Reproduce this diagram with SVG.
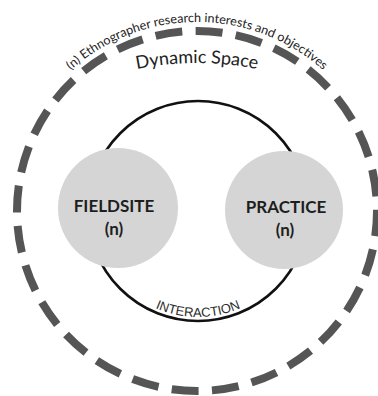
<svg xmlns="http://www.w3.org/2000/svg" width="378" height="396" viewBox="0 0 378 396">
  <defs>
    <style>
      .bg { fill: #ffffff; }
      .outer { fill: none; stroke: #555555; stroke-width: 8; stroke-dasharray: 27 13.39; stroke-dashoffset: 1.7; }
      .inner { fill: none; stroke: #111111; stroke-width: 2.6; }
      .node { fill: #d5d5d5; }
      .nlabel { font-family: Lato, "Open Sans", "Liberation Sans", sans-serif; font-weight: bold; font-size: 17px; fill: #1e1e1e; text-anchor: middle; }
      .arclabel { font-family: Lato, "Open Sans", "Liberation Sans", sans-serif; fill: #222222; }
      .interaction { font-family: "Liberation Sans", Arial, sans-serif; font-size: 13px; fill: #2a2a2a; }
    </style>
    <path id="arcOuterText" d="M 33.3 116.5 A 189 189 0 0 1 360.7 116.5"/>
    <path id="arcDynamic" d="M 47 103.2 A 300 300 0 0 1 347 103.2"/>
    <path id="arcInteraction" d="M 106.2 264 A 106 106 0 0 0 289.8 264"/>
  </defs>
  <rect class="bg" x="0" y="0" width="378" height="396"/>

  <g id="dynamic-space">
    <circle class="outer" cx="197" cy="211" r="180"/>
    <text class="arclabel" font-size="12.5"><textPath href="#arcOuterText" startOffset="50%" text-anchor="middle" textLength="276" lengthAdjust="spacingAndGlyphs">(n) Ethnographer research interests and objectives</textPath></text>
    <text class="arclabel" font-size="18"><textPath href="#arcDynamic" startOffset="50%" text-anchor="middle" textLength="121" lengthAdjust="spacingAndGlyphs">Dynamic Space</textPath></text>
  </g>

  <g id="connectors">
    <circle class="inner" cx="198" cy="211" r="110"/>
    <text class="interaction"><textPath href="#arcInteraction" startOffset="50%" text-anchor="middle" textLength="88" lengthAdjust="spacingAndGlyphs">INTERACTION</textPath></text>
  </g>

  <g id="fieldsite">
    <circle class="node" cx="118" cy="208" r="60"/>
    <text class="nlabel" x="114" y="212">FIELDSITE</text>
    <text class="nlabel" x="114" y="235">(n)</text>
  </g>

  <g id="practice">
    <circle class="node" cx="284" cy="210" r="59"/>
    <text class="nlabel" x="286" y="213">PRACTICE</text>
    <text class="nlabel" x="285" y="236">(n)</text>
  </g>
</svg>
